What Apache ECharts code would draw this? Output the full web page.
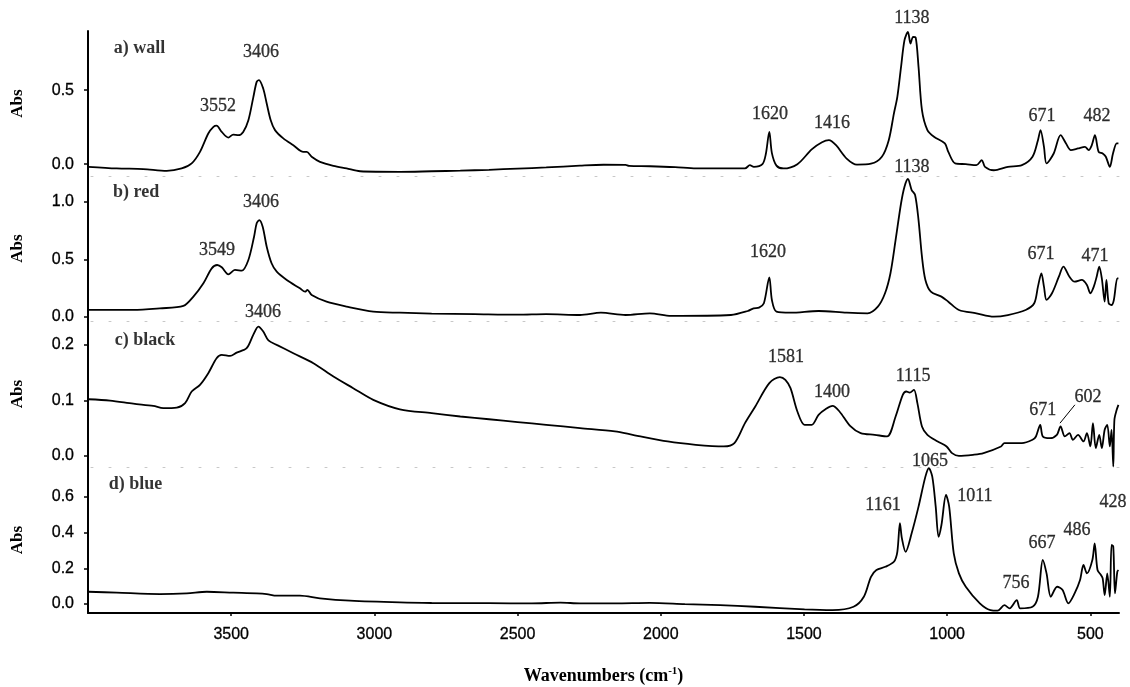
<!DOCTYPE html>
<html>
<head>
<meta charset="utf-8">
<script src="https://cdn.jsdelivr.net/npm/echarts@6/dist/echarts.min.js"></script>
<style>
html,body{margin:0;padding:0;background:#fff;}
#chart{width:1130px;height:687px;}
</style>
</head>
<body>
<div id="chart"></div>
<script>
// ---------- DATA ----------
const xTickLabels = [3500, 3000, 2500, 2000, 1500, 1000, 500];
const panelNames = ['a) wall', 'b) red', 'c) black', 'd) blue'];
const yTicksWall = [0.0, 0.5];
const yTicksRed = [0.0, 0.5, 1.0];
const yTicksBlack = [0.0, 0.1, 0.2];
const yTicksBlue = [0.0, 0.2, 0.4, 0.6];

// [wavenumber, absorbance]
const wall = [[3999,-0.018],[3900,-0.029],[3807,-0.033],[3725,-0.045],[3673,-0.029],[3638,0.005],[3609,0.083],[3580,0.207],[3562,0.252],[3551,0.26],[3533,0.218],[3510,0.18],[3493,0.20],[3475,0.196],[3458,0.218],[3440,0.297],[3423,0.45],[3411,0.556],[3403,0.568],[3388,0.51],[3376,0.41],[3362,0.297],[3347,0.23],[3318,0.174],[3283,0.128],[3248,0.083],[3236,0.083],[3219,0.05],[3190,0.016],[3143,-0.011],[3097,-0.029],[3050,-0.048],[2911,-0.052],[2800,-0.048],[2700,-0.044],[2600,-0.038],[2500,-0.03],[2400,-0.022],[2282,-0.01],[2200,-0.004],[2123,-0.005],[2111,-0.012],[2038,-0.014],[1950,-0.02],[1877,-0.029],[1706,-0.029],[1689,-0.007],[1675,-0.018],[1645,0.0],[1633,0.07],[1621,0.218],[1612,0.075],[1596,-0.01],[1572,-0.029],[1523,0.0],[1473,0.1],[1437,0.148],[1413,0.162],[1388,0.128],[1351,0.038],[1315,-0.003],[1266,0.003],[1228,0.05],[1204,0.162],[1186,0.342],[1174,0.455],[1161,0.658],[1149,0.838],[1137,0.894],[1128,0.815],[1119,0.86],[1110,0.856],[1100,0.658],[1088,0.365],[1069,0.23],[1046,0.185],[1008,0.14],[996,0.083],[972,0.005],[935,0.0],[898,-0.007],[879,0.027],[868,-0.018],[837,-0.041],[788,-0.018],[739,-0.007],[702,0.05],[683,0.162],[674,0.23],[662,0.117],[653,0.005],[628,0.072],[604,0.196],[585,0.14],[568,0.095],[543,0.106],[519,0.117],[506,0.095],[495,0.128],[484,0.196],[471,0.083],[457,0.072],[446,0.05],[432,-0.018],[421,0.072],[408,0.14],[402,0.14]];

const red = [[3999,0.061],[3842,0.061],[3749,0.075],[3667,0.096],[3632,0.177],[3597,0.293],[3568,0.423],[3549,0.452],[3533,0.432],[3510,0.371],[3487,0.409],[3463,0.403],[3440,0.496],[3420,0.70],[3411,0.815],[3402,0.843],[3390,0.785],[3376,0.611],[3359,0.467],[3341,0.394],[3306,0.322],[3260,0.249],[3242,0.22],[3234,0.235],[3219,0.191],[3167,0.133],[3097,0.09],[3004,0.046],[2911,0.037],[2800,0.03],[2650,0.025],[2500,0.02],[2400,0.025],[2282,0.017],[2209,0.037],[2123,0.017],[2038,0.032],[1964,0.009],[1755,0.017],[1696,0.052],[1676,0.075],[1657,0.081],[1640,0.119],[1621,0.345],[1612,0.148],[1596,0.046],[1547,0.037],[1449,0.052],[1351,0.037],[1278,0.032],[1242,0.09],[1217,0.206],[1198,0.38],[1180,0.67],[1161,0.989],[1149,1.133],[1137,1.2],[1124,1.104],[1112,1.061],[1100,0.843],[1088,0.524],[1076,0.322],[1057,0.22],[1020,0.177],[996,0.133],[959,0.061],[898,0.032],[837,0.003],[788,0.017],[726,0.061],[696,0.119],[683,0.264],[671,0.38],[662,0.264],[653,0.148],[634,0.206],[610,0.35],[594,0.438],[573,0.35],[555,0.307],[530,0.322],[512,0.278],[500,0.206],[488,0.264],[478,0.35],[469,0.438],[460,0.336],[450,0.133],[444,0.322],[436,0.119],[426,0.104],[418,0.148],[406,0.336],[402,0.336]];

const black = [[3999,0.102],[3923,0.0997],[3842,0.094],[3772,0.090],[3737,0.086],[3690,0.087],[3661,0.095],[3638,0.116],[3609,0.128],[3580,0.149],[3551,0.176],[3533,0.182],[3504,0.180],[3481,0.186],[3446,0.194],[3423,0.218],[3405,0.233],[3388,0.224],[3370,0.208],[3341,0.200],[3283,0.185],[3213,0.167],[3143,0.143],[3074,0.122],[3004,0.101],[2911,0.084],[2800,0.077],[2700,0.071],[2600,0.066],[2500,0.061],[2400,0.056],[2282,0.050],[2160,0.044],[2098,0.038],[1976,0.026],[1878,0.020],[1780,0.017],[1743,0.023],[1706,0.059],[1670,0.089],[1621,0.131],[1584,0.142],[1565,0.137],[1547,0.122],[1523,0.080],[1498,0.056],[1473,0.056],[1449,0.074],[1425,0.084],[1400,0.090],[1376,0.080],[1339,0.054],[1302,0.041],[1253,0.038],[1210,0.035],[1180,0.071],[1155,0.110],[1143,0.116],[1131,0.114],[1116,0.119],[1104,0.095],[1088,0.053],[1069,0.038],[1033,0.026],[1002,0.017],[983,0.005],[959,0.0],[910,0.002],[873,0.005],[812,0.017],[800,0.023],[739,0.023],[702,0.029],[690,0.035],[675,0.056],[666,0.035],[641,0.032],[617,0.038],[604,0.053],[589,0.035],[573,0.041],[561,0.029],[543,0.038],[524,0.026],[512,0.041],[500,0.017],[491,0.059],[481,0.014],[469,0.038],[460,0.014],[450,0.047],[441,0.056],[432,0.017],[426,0.047],[420,-0.019],[416,0.065],[408,0.083],[402,0.092]];

const blue = [[3999,0.069],[3900,0.064],[3749,0.056],[3655,0.06],[3585,0.069],[3493,0.064],[3411,0.06],[3376,0.056],[3341,0.047],[3260,0.047],[3190,0.032],[3085,0.019],[2911,0.009],[2800,0.006],[2600,0.005],[2450,0.004],[2350,0.008],[2282,0.004],[2160,0.004],[2038,0.007],[1916,0.0],[1793,-0.006],[1671,-0.015],[1498,-0.03],[1400,-0.034],[1327,-0.015],[1291,0.041],[1266,0.153],[1247,0.191],[1216,0.209],[1186,0.237],[1174,0.293],[1165,0.453],[1158,0.368],[1145,0.293],[1124,0.397],[1100,0.546],[1076,0.714],[1064,0.761],[1052,0.714],[1040,0.546],[1030,0.377],[1020,0.443],[1004,0.611],[993,0.546],[977,0.284],[959,0.172],[935,0.097],[886,0.004],[849,-0.034],[824,-0.037],[800,-0.006],[782,-0.024],[757,0.022],[745,-0.024],[702,-0.015],[683,0.041],[666,0.247],[653,0.172],[638,0.041],[616,0.097],[597,0.079],[577,0.004],[555,0.06],[536,0.135],[524,0.219],[512,0.172],[493,0.247],[485,0.34],[475,0.191],[463,0.163],[457,0.144],[450,0.05],[441,0.172],[432,0.041],[426,0.331],[420,0.322],[414,0.06],[406,0.181],[402,0.191]];

// peak annotations: [text, wavenumber, absorbance at text centre]
const wallPeaks = [['3552',3546,0.392],['3406',3396,0.757],['1620',1619,0.338],['1416',1402,0.277],['1138',1123,0.986],['671',669,0.324],['482',477,0.324]];
const redPeaks = [['3549',3550,0.583],['3406',3396,1.0],['1620',1626,0.565],['1138',1123,1.304],['671',672,0.548],['471',484,0.530]];
const blackPeaks = [['3406',3389,0.258],['1581',1563,0.177],['1400',1402,0.115],['1115',1119,0.144],['671',666,0.083],['602',508,0.105]];
const bluePeaks = [['1065',1060,0.802],['1161',1224,0.555],['1011',903,0.606],['428',421,0.572],['486',547,0.415],['667',669,0.342],['756',760,0.118]];
const blackLeader = [[606,0.059],[554,0.092]];
// panel title anchors [wavenumber, absorbance]
const titleAnchors = [[3820,0.784],[3832,1.087],[3801,0.209],[3834,0.673]];

// ---------- LAYOUT ----------
const grids = [
  {top:31, height:145, min:-0.08, max:0.9, ticks:yTicksWall},
  {top:176, height:145, min:-0.035, max:1.226, ticks:yTicksRed},
  {top:321, height:146, min:-0.02, max:0.243, ticks:yTicksBlack},
  {top:467, height:146, min:-0.05, max:0.768, ticks:yTicksBlue}
];
const spectra = [wall, red, black, blue];
const peaks = [wallPeaks, redPeaks, blackPeaks, bluePeaks];

const sansFont = '"Liberation Sans", Arial, sans-serif';
const serifFont = '"Liberation Serif", "Times New Roman", serif';

const option = {
  animation: false,
  backgroundColor: '#fff',
  grid: grids.map(g => ({left: 88, right: 11, top: g.top, height: g.height, containLabel: false})),
  xAxis: grids.map((g, i) => {
    const last = i === grids.length - 1;
    return {
      type: 'value', gridIndex: i, min: 400, max: 4000, inverse: true,
      splitLine: {show: false},
      axisLine: last ? {show: true, onZero: false, lineStyle: {color: '#000', width: 2}}
                     : {show: true, onZero: false, lineStyle: {color: '#c8c8c8', width: 1, type: [2, 16]}},
      axisTick: last ? {show: true, inside: false, length: 3, customValues: xTickLabels, lineStyle: {color: '#000', width: 1.5}} : {show: false},
      axisLabel: last ? {show: true, customValues: xTickLabels, margin: 14, fontFamily: sansFont, fontSize: 16, color: '#000',
        textBorderColor: '#000', textBorderWidth: 0.3, formatter: v => String(v)} : {show: false},
      name: last ? '{a|Wavenumbers (cm}{s|-1}{a|)}' : '',
      nameLocation: 'middle',
      nameGap: 53,
      nameTextStyle: {
        rich: {
          a: {fontFamily: serifFont, fontWeight: 'bold', fontSize: 18, color: '#000'},
          s: {fontFamily: serifFont, fontWeight: 'bold', fontSize: 11, color: '#000', verticalAlign: 'top', padding: [0, 0, 9, 0]}
        }
      }
    };
  }),
  yAxis: grids.map((g, i) => ({
    type: 'value', gridIndex: i, min: g.min, max: g.max,
    splitLine: {show: false},
    axisLine: {show: true, onZero: false, lineStyle: {color: '#000', width: 2}},
    axisTick: {show: true, length: 4, customValues: g.ticks, lineStyle: {color: '#000', width: 1.5}},
    axisLabel: {show: true, customValues: g.ticks, margin: 14, fontFamily: sansFont, fontSize: 16, color: '#000',
      textBorderColor: '#000', textBorderWidth: 0.3, formatter: v => Number(v).toFixed(1)},
    name: 'Abs', nameLocation: 'middle', nameGap: 62,
    nameTextStyle: {fontFamily: serifFont, fontWeight: 'bold', fontSize: 17, color: '#000'}
  })),
  series: []
};

spectra.forEach((d, i) => {
  option.series.push({
    type: 'line', xAxisIndex: i, yAxisIndex: i, data: d,
    showSymbol: false, smooth: 0.3, clip: false, silent: true,
    lineStyle: {color: '#000', width: 1.8}
  });
  option.series.push({
    type: 'scatter', xAxisIndex: i, yAxisIndex: i, symbolSize: 0, clip: false, silent: true,
    data: peaks[i].map(p => ({name: p[0], value: [p[1], p[2]]})),
    label: {show: true, position: 'inside', formatter: '{b}', fontFamily: serifFont, fontSize: 18, color: '#000',
      textBorderColor: '#000', textBorderWidth: 0.3}
  });
  option.series.push({
    type: 'scatter', xAxisIndex: i, yAxisIndex: i, symbolSize: 0, clip: false, silent: true,
    data: [{name: panelNames[i], value: titleAnchors[i]}],
    label: {show: true, position: 'inside', formatter: '{b}', fontFamily: serifFont, fontWeight: 'bold', fontSize: 18, color: '#000'}
  });
});
option.series.push({
  type: 'line', xAxisIndex: 2, yAxisIndex: 2, data: blackLeader, showSymbol: false, clip: false, silent: true,
  lineStyle: {color: '#000', width: 1}
});

const chart = echarts.init(document.getElementById('chart'), null, {renderer: 'canvas'});
chart.setOption(option);
</script>
</body>
</html>
